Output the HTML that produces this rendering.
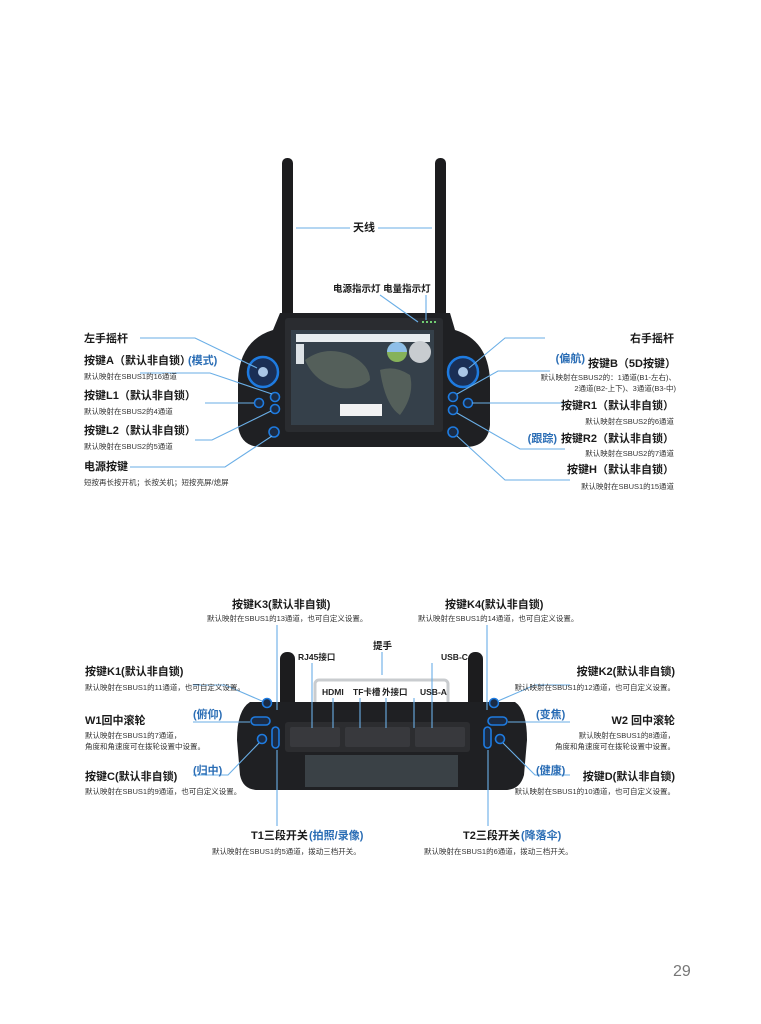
<!DOCTYPE html>
<html><head><meta charset="utf-8"><style>
html,body{margin:0;padding:0;background:#fff;}
svg{display:block;}
text{font-family:"Liberation Sans","Noto Sans CJK SC",sans-serif;}
.h{font-size:11px;font-weight:bold;fill:#1a1a1a;}
.s{font-size:7.5px;fill:#333;}
.b{font-size:11px;font-weight:bold;fill:#2a6db5;}
.p{font-size:8.5px;font-weight:bold;fill:#222;}
.l{stroke:#6aaee6;stroke-width:1.1;fill:none;}
.btn{fill:#1b2b44;stroke:#1e7be0;stroke-width:1.6;}
</style></head><body>
<svg width="761" height="1024" viewBox="0 0 761 1024" xmlns="http://www.w3.org/2000/svg">
<rect width="761" height="1024" fill="#fff"/>
<!-- TOP DEVICE -->
<rect x="282" y="158" width="11" height="165" rx="5" fill="#1c1c1e"/>
<rect x="435" y="158" width="11" height="165" rx="5" fill="#1c1c1e"/>
<path d="M280 313 H450 L455 330 Q488 340 490 380 L490 425 Q488 447 465 447 H262 Q240 447 238 425 L238 380 Q240 340 273 330 Z" fill="#1f2023"/>
<rect x="285" y="318" width="158" height="114" rx="3" fill="#2a2c30"/>
<rect x="291" y="330" width="143" height="95" fill="#35404a"/>
<rect x="296" y="334" width="134" height="8" fill="#e8ecef"/>
<rect x="296" y="344" width="8" height="20" fill="#dde2e6"/>
<path d="M305 360 q20 -15 45 -5 q20 10 20 25 q-10 10 -30 8 q-25 -5 -35 -28z M380 370 q15 -5 30 5 q5 20 -10 40 q-15 -10 -20 -45z" fill="#545f5a"/>
<circle cx="397" cy="352" r="10" fill="#86b25a"/><path d="M387 352 a10 10 0 0 1 20 0z" fill="#8fbfe8"/>
<circle cx="420" cy="352" r="11" fill="#c8ccd0"/>
<rect x="340" y="404" width="42" height="12" fill="#f2f2f2"/>
<circle cx="263" cy="372" r="15" fill="#1a2f55" stroke="#1e7be0" stroke-width="2.5"/>
<circle cx="263" cy="372" r="5" fill="#a9c6e6"/>
<circle cx="463" cy="372" r="15" fill="#1a2f55" stroke="#1e7be0" stroke-width="2.5"/>
<circle cx="463" cy="372" r="5" fill="#a9c6e6"/>
<circle class="btn" cx="275" cy="397" r="4.5"/><circle class="btn" cx="259" cy="403" r="4.5"/>
<circle class="btn" cx="275" cy="409" r="4.5"/><circle class="btn" cx="274" cy="432" r="5"/>
<circle class="btn" cx="453" cy="397" r="4.5"/><circle class="btn" cx="468" cy="403" r="4.5"/>
<circle class="btn" cx="453" cy="410" r="4.5"/><circle class="btn" cx="453" cy="432" r="5"/>
<circle cx="423" cy="322" r="1" fill="#8f8"/><circle cx="427" cy="322" r="1" fill="#8f8"/><circle cx="431" cy="322" r="1" fill="#8f8"/><circle cx="435" cy="322" r="1" fill="#8f8"/>
<!-- top lines -->
<path class="l" d="M296 228 H350 M378 228 H432"/>
<path class="l" d="M380 295 L418 322 M426 295 V320"/>
<path class="l" d="M140 338 H195 L257 368"/>
<path class="l" d="M140 373 H210 L272 394"/>
<path class="l" d="M205 403 H254"/>
<path class="l" d="M195 440 H212 L271 411"/>
<path class="l" d="M130 467 H225 L272 436"/>
<path class="l" d="M545 338 H505 L469 368"/>
<path class="l" d="M550 371 H498 L457 394"/>
<path class="l" d="M472 403 H565"/>
<path class="l" d="M565 449 H520 L457 413"/>
<path class="l" d="M570 480 H505 L457 436"/>
<!-- top text -->
<text class="h" x="353" y="231">天线</text>
<text class="h" x="333" y="292" style="font-size:9.5px">电源指示灯 电量指示灯</text>
<text class="h" x="84" y="342">左手摇杆</text>
<text class="h" x="84" y="364">按键A（默认非自锁）</text><text class="b" x="188" y="364">(模式)</text>
<text class="s" x="84" y="379">默认映射在SBUS1的16通道</text>
<text class="h" x="84" y="399">按键L1（默认非自锁）</text>
<text class="s" x="84" y="414">默认映射在SBUS2的4通道</text>
<text class="h" x="84" y="434">按键L2（默认非自锁）</text>
<text class="s" x="84" y="449">默认映射在SBUS2的5通道</text>
<text class="h" x="84" y="470">电源按键</text>
<text class="s" x="84" y="485">短按再长按开机；长按关机；短按亮屏/熄屏</text>
<g text-anchor="end">
<text class="h" x="674" y="342">右手摇杆</text>
<text class="h" x="676" y="367">按键B（5D按键）</text>
<text class="b" x="585" y="362">(偏航)</text>
<text class="s" x="676" y="380">默认映射在SBUS2的：1通道(B1-左右)、</text>
<text class="s" x="676" y="391">2通道(B2-上下)、3通道(B3-中)</text>
<text class="h" x="674" y="409">按键R1（默认非自锁）</text>
<text class="s" x="674" y="424">默认映射在SBUS2的6通道</text>
<text class="h" x="674" y="442">按键R2（默认非自锁）</text>
<text class="b" x="557" y="442">(跟踪)</text>
<text class="s" x="674" y="456">默认映射在SBUS2的7通道</text>
<text class="h" x="674" y="473">按键H（默认非自锁）</text>
<text class="s" x="674" y="489">默认映射在SBUS1的15通道</text>
</g>
<!-- BOTTOM DEVICE -->
<rect x="315" y="680" width="133" height="30" rx="4" fill="none" stroke="#c9cccf" stroke-width="3"/>
<rect x="280" y="652" width="15" height="62" rx="7" fill="#1c1c1e"/>
<rect x="468" y="652" width="15" height="62" rx="7" fill="#1c1c1e"/>
<path d="M250 702 H515 Q527 710 527 740 L524 775 Q520 790 505 790 H258 Q243 790 240 775 L237 740 Q237 710 250 702 Z" fill="#1f2023"/>
<rect x="285" y="722" width="185" height="30" rx="3" fill="#2c2d30"/>
<rect x="290" y="727" width="50" height="20" rx="2" fill="#38393d"/>
<rect x="345" y="727" width="65" height="20" rx="2" fill="#38393d"/>
<rect x="415" y="727" width="50" height="20" rx="2" fill="#38393d"/>
<rect x="305" y="755" width="153" height="32" fill="#3a4146"/>
<circle class="btn" cx="267" cy="703" r="4.5"/><rect class="btn" x="251" y="717" width="19" height="8" rx="4"/>
<circle class="btn" cx="262" cy="739" r="4.5"/><rect class="btn" x="272" y="727" width="7" height="21" rx="3.5"/>
<circle class="btn" cx="494" cy="703" r="4.5"/><rect class="btn" x="488" y="717" width="19" height="8" rx="4"/>
<circle class="btn" cx="500" cy="739" r="4.5"/><rect class="btn" x="484" y="727" width="7" height="21" rx="3.5"/>
<!-- bottom lines -->
<path class="l" d="M277 625 V710 M487 625 V710 M277 750 V826 M488 750 V826"/>
<path class="l" d="M382 652 V675 M312 663 V728 M333 698 V728 M360 698 V728 M386 698 V728 M414 698 V728 M432 663 V728"/>
<path class="l" d="M193 685 H225 L262 701"/>
<path class="l" d="M193 722 H250"/>
<path class="l" d="M193 775 H228 L259 743"/>
<path class="l" d="M570 685 H535 L498 701"/>
<path class="l" d="M570 722 H508"/>
<path class="l" d="M570 775 H535 L503 743"/>
<!-- bottom text -->
<text class="h" x="232" y="608">按键K3(默认非自锁)</text>
<text class="s" x="207" y="621">默认映射在SBUS1的13通道，也可自定义设置。</text>
<text class="h" x="445" y="608">按键K4(默认非自锁)</text>
<text class="s" x="418" y="621">默认映射在SBUS1的14通道，也可自定义设置。</text>
<text class="h" x="373" y="649" style="font-size:9.5px">提手</text>
<text class="p" x="298" y="660">RJ45接口</text>
<text class="p" x="441" y="660">USB-C</text>
<text class="p" x="322" y="695">HDMI</text>
<text class="p" x="353" y="695">TF卡槽</text>
<text class="p" x="382" y="695">外接口</text>
<text class="p" x="420" y="695">USB-A</text>
<text class="h" x="85" y="675">按键K1(默认非自锁)</text>
<text class="s" x="85" y="690">默认映射在SBUS1的11通道，也可自定义设置。</text>
<text class="h" x="85" y="724">W1回中滚轮</text>
<text class="b" x="193" y="718">(俯仰)</text>
<text class="s" x="85" y="738">默认映射在SBUS1的7通道，</text>
<text class="s" x="85" y="749">角度和角速度可在拨轮设置中设置。</text>
<text class="b" x="193" y="774">(归中)</text>
<text class="h" x="85" y="780">按键C(默认非自锁)</text>
<text class="s" x="85" y="794">默认映射在SBUS1的9通道，也可自定义设置。</text>
<text class="b" x="536" y="718">(变焦)</text>
<text class="b" x="536" y="774">(健康)</text>
<g text-anchor="end">
<text class="h" x="675" y="675">按键K2(默认非自锁)</text>
<text class="s" x="675" y="690">默认映射在SBUS1的12通道，也可自定义设置。</text>
<text class="h" x="675" y="724">W2 回中滚轮</text>
<text class="s" x="675" y="738">默认映射在SBUS1的8通道，</text>
<text class="s" x="675" y="749">角度和角速度可在拨轮设置中设置。</text>
<text class="h" x="675" y="780">按键D(默认非自锁)</text>
<text class="s" x="675" y="794">默认映射在SBUS1的10通道，也可自定义设置。</text>
</g>
<text class="h" x="251" y="839">T1三段开关</text><text class="b" x="309" y="839">(拍照/录像)</text>
<text class="s" x="212" y="854">默认映射在SBUS1的5通道，拨动三档开关。</text>
<text class="h" x="463" y="839">T2三段开关</text><text class="b" x="521" y="839">(降落伞)</text>
<text class="s" x="424" y="854">默认映射在SBUS1的6通道，拨动三档开关。</text>
<text x="673" y="976" style="font-size:16px;fill:#777;">29</text>
</svg>
</body></html>
